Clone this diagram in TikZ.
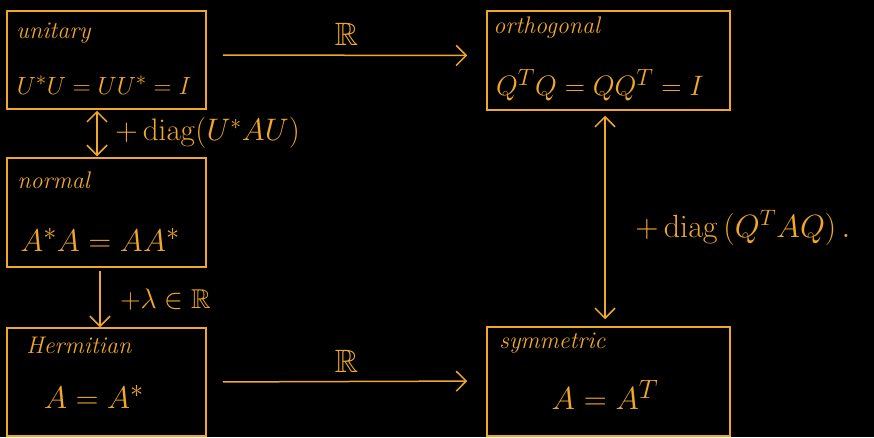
\documentclass[tikz,border=0pt]{standalone}
\usepackage{amsmath,amssymb}
\usetikzlibrary{arrows.meta,positioning}
\definecolor{inkorange}{RGB}{240,168,40}

\begin{document}
\begin{tikzpicture}[
    x=1pt, y=-1pt,
    color=inkorange,
    box/.style={draw=inkorange, line width=1.5pt, minimum width=199pt, minimum height=98pt, inner sep=0pt},
    widebox/.style={box, minimum width=243pt},
    title/.style={font=\fontsize{20}{24}\selectfont\itshape, inner sep=0pt, scale=1.2, transform shape},
    eqn/.style={font=\fontsize{24.88}{30}\selectfont, inner sep=0pt, transform shape},
    lbl/.style={font=\fontsize{20}{24}\selectfont, inner sep=0pt, anchor=west, transform shape},
    arrow/.style={-{Straight Barb[length=10pt,width=20pt]}, line width=1.5pt},
    dbl/.style={{Straight Barb[length=10pt,width=20pt]}-{Straight Barb[length=10pt,width=20pt]}, line width=1.5pt},
]
    \fill[black] (0,0) rectangle (874,437);
    \useasboundingbox (0,0) rectangle (874,437);

    \node[box, minimum height=98pt] (unitary) at (106.5,60) {};
    \node[widebox, minimum height=99pt] (orthogonal) at (608.5,60.5) {};
    \node[box, minimum height=109pt] (normal) at (106.5,212.5) {};
    \node[box, minimum height=108pt] (hermitian) at (106.5,382) {};
    \node[widebox, minimum height=109pt] (symmetric) at (608.5,381.5) {};

    \node[title, below right=12pt and 10pt of unitary.north west] {unitary};
    \node[eqn] at (104,85) {$U^*U=UU^*=I$};
    \node[title, below right=6pt and 7pt of orthogonal.north west] {orthogonal};
    \node[eqn, scale=1.13] at (600,85) {$Q^{T}Q=QQ^{T}=I$};
    \node[title, below right=14pt and 11pt of normal.north west] {normal};
    \node[eqn, scale=1.26] at (100,240) {$A^*A=AA^*$};
    \node[title, below right=10pt and 20pt of hermitian.north west] {Hermitian};
    \node[eqn, scale=1.26] at (94,397) {$A=A^*$};
    \node[title, below right=6pt and 13pt of symmetric.north west] {symmetric};
    \node[eqn, scale=1.28] at (605,395) {$A=A^{T}$};

    \draw[arrow, shorten <=16pt, shorten >=19pt] ([yshift=5pt]unitary.east) -- ([yshift=5pt]orthogonal.west)
        node[midway, above=4pt, font=\fontsize{24.88}{30}\selectfont, scale=1.3, transform shape] (rtop) {$\mathbb{R}$};
    \draw[arrow, shorten <=16pt, shorten >=19pt] (hermitian.east) -- ([yshift=0.5pt]symmetric.west)
        node[midway, above=4pt, font=\fontsize{24.88}{30}\selectfont, scale=1.3, transform shape] (rbot) {$\mathbb{R}$};

    \draw[dbl, shorten <=1pt, shorten >=1pt] ([xshift=-9.5pt]unitary.south) -- ([xshift=-9.5pt]normal.north);
    \node[lbl, scale=1.5] (diagu) at (115,133) {$+\,\mathrm{diag}(U^*AU)$};

    \draw[arrow, shorten <=3pt] ([xshift=-6.5pt]normal.south) -- ([xshift=-6.5pt]hermitian.north);
    \node[lbl, scale=1.36] (lam) at (120,300) {$+\lambda\in\mathbb{R}$};

    \draw[dbl, shorten <=5pt, shorten >=7pt] ([xshift=-3.5pt]orthogonal.south) -- ([xshift=-3.5pt]symmetric.north);
    \node[lbl, scale=1.55] (diagq) at (635,228) {$+\,\mathrm{diag}\,(Q^{T}AQ)\,.$};

\end{tikzpicture}
\end{document}
